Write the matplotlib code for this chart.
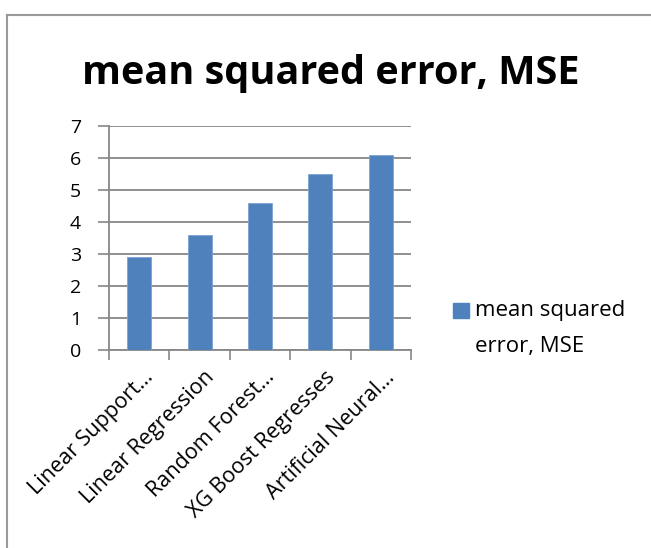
import matplotlib.pyplot as plt
import matplotlib.transforms as mtransforms
from matplotlib.patches import Rectangle
import numpy as np

plt.rcParams['font.family'] = ['Open Sans', 'DejaVu Sans']

# 資料
models = ["Linear Support…", "Linear Regression", "Random Forest…",
          "XG Boost Regresses", "Artificial Neural…"]
mse = [2.9, 3.6, 4.6, 5.5, 6.1]
legend_lines = ["mean squared", "error, MSE"]
title = "mean squared error, MSE"

bar_color = '#4F81BD'
grid_color = '#878787'
W, H = 651, 548

fig = plt.figure(figsize=(W / 100, H / 100), dpi=100)
ax = fig.add_axes([109 / W, 1 - 350 / H, 302 / W, 224 / H])

x = np.arange(len(models))
ax.bar(x, mse, width=0.4, color=bar_color, edgecolor='#7FA2D0', linewidth=0.6,
       zorder=3)

# Y軸
ax.set_ylim(0, 7)
ax.set_yticks(range(0, 8))
ax.tick_params(axis='y', length=8, width=1.2, color=grid_color, labelsize=14, pad=12)
ax.yaxis.grid(True, color=grid_color, linewidth=1.3, zorder=0)

# X軸: 刻度在類別邊界
ax.set_xlim(-0.5, len(models) - 0.5)
ax.set_xticks(x)
ax.set_xticklabels([])
ax.tick_params(axis='x', which='major', length=0)
ax.set_xticks(np.arange(-0.5, len(models)), minor=True)
ax.tick_params(axis='x', which='minor', length=7, width=1.2, color=grid_color)

offset = mtransforms.ScaledTranslation(0.15, -0.28, fig.dpi_scale_trans)
for xi, name in zip(x, models):
    ax.text(xi, 0, name, rotation=45, rotation_mode='anchor', ha='right', va='baseline',
            fontsize=15.5, transform=ax.get_xaxis_transform() + offset)

for side in ['top', 'right']:
    ax.spines[side].set_visible(False)
for side in ['left', 'bottom']:
    ax.spines[side].set_color(grid_color)
    ax.spines[side].set_linewidth(1.3)

# 標題
fig.text(331 / W, 1 - 84 / H, title, ha='center', va='baseline', fontsize=28.5,
         fontweight='bold')

# 圖例
fig.patches.append(Rectangle((453 / W, 1 - 318 / H), 16 / W, 15 / H,
                             transform=fig.transFigure, color=bar_color))
for i, line in enumerate(legend_lines):
    fig.text(475 / W, 1 - (316 + 36 * i) / H, line, ha='left', va='baseline',
             fontsize=16)

# 外框
fig.add_artist(plt.Line2D([7 / W, 7 / W], [0, 1 - 15 / H], color='#999999',
                          linewidth=1.5, transform=fig.transFigure))
fig.add_artist(plt.Line2D([7 / W, 1], [1 - 15 / H, 1 - 15 / H], color='#999999',
                          linewidth=1.5, transform=fig.transFigure))

fig.savefig('out.png', dpi=100)
